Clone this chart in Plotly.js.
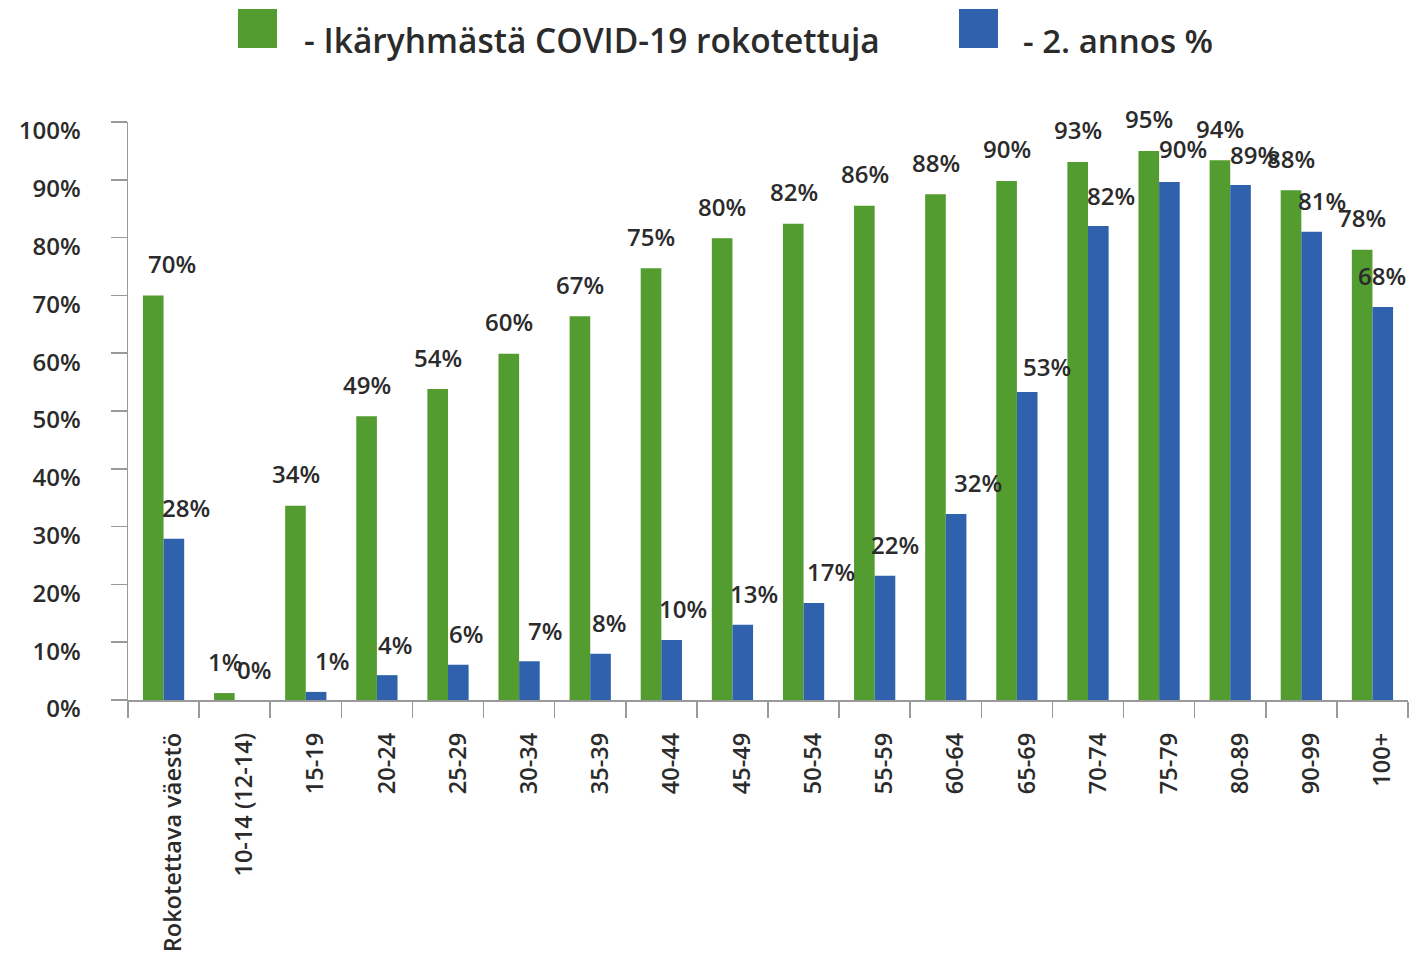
<!DOCTYPE html>
<html>
<head>
<meta charset="utf-8">
<script src="https://cdn.plot.ly/plotly-3.0.1.min.js"></script>
<style>html,body{margin:0;padding:0;background:#fff;}#chart{width:1416px;height:956px;}</style>
</head>
<body>
<div id="chart"></div>
<script>
const categories = ["Rokotettava väestö","10-14 (12-14)","15-19","20-24","25-29","30-34","35-39","40-44","45-49","50-54","55-59","60-64","65-69","70-74","75-79","80-89","90-99","100+"];
const firstDose = [70, 1.2, 33.6, 49.1, 53.8, 59.9, 66.4, 74.7, 79.9, 82.4, 85.5, 87.5, 89.8, 93.1, 95.0, 93.4, 88.2, 77.9];
const secondDose = [27.9, 0, 1.4, 4.3, 6.1, 6.7, 8.0, 10.4, 13.0, 16.8, 21.5, 32.2, 53.3, 82.0, 89.6, 89.1, 81.0, 68.0];
const firstLabels = ["70%","1%","34%","49%","54%","60%","67%","75%","80%","82%","86%","88%","90%","93%","95%","94%","88%","78%"];
const secondLabels = ["28%","0%","1%","4%","6%","7%","8%","10%","13%","17%","22%","32%","53%","82%","90%","89%","81%","68%"];
const yTicks = [0,10,20,30,40,50,60,70,80,90,100];
const legendNames = ["- Ikäryhmästä COVID-19 rokotettuja", "- 2. annos %"];

// label placement nudges (style only, px relative to each bar's centre)
const greenLabelDx = [18,0,0,0,0,0,0,0,0,0,0,0,0,0,0,0,0,0];
const blueLabelDx  = [12,9,16,8,8,16,9,12,12,17,10,22,20,13,14,14,11,0];
const blueLabelDy  = [0,0,0,0,0,0,0,0,0,0,0,0,-6,0,3,0,0,0];

const GREEN = "#529c30", BLUE = "#2f61ad", TXT = "#2b2b2b", AX = "#9a9a9a";
const FONT = "Open Sans";

const traces = [
  {type:"bar", x:categories, y:firstDose, name:legendNames[0], marker:{color:GREEN}, hoverinfo:"skip"},
  {type:"bar", x:categories, y:secondDose, name:legendNames[1], marker:{color:BLUE}, hoverinfo:"skip"}
];

const annotations = [];
categories.forEach((c,i)=>{
  annotations.push({x:c, y:firstDose[i], xref:"x", yref:"y", text:firstLabels[i], showarrow:false,
    xanchor:"center", yanchor:"middle", xshift: -10 + greenLabelDx[i], yshift:32,
    font:{family:FONT, size:24, color:TXT, weight:600}});
  annotations.push({x:c, y:secondDose[i], xref:"x", yref:"y", text:secondLabels[i], showarrow:false,
    xanchor:"center", yanchor:"middle", xshift:10 + blueLabelDx[i], yshift:31 + blueLabelDy[i],
    font:{family:FONT, size:24, color:TXT, weight:600}});
});
// legend texts
annotations.push({xref:"paper", yref:"paper", x:(302-128)/1280, y:(700-40)/578, text:legendNames[0], showarrow:false,
  xanchor:"left", yanchor:"middle", font:{family:FONT, size:33.5, color:TXT, weight:600}});
annotations.push({xref:"paper", yref:"paper", x:(1021-128)/1280, y:(700-40)/578, text:legendNames[1], showarrow:false,
  xanchor:"left", yanchor:"middle", font:{family:FONT, size:33, color:TXT, weight:600}});

const shapes = [
  {type:"rect", xref:"paper", yref:"paper", x0:(238-128)/1280, x1:(277-128)/1280, y0:(700-48)/578, y1:(700-9)/578, fillcolor:GREEN, line:{width:0}},
  {type:"rect", xref:"paper", yref:"paper", x0:(959-128)/1280, x1:(998-128)/1280, y0:(700-48)/578, y1:(700-9)/578, fillcolor:BLUE, line:{width:0}}
];

const layout = {
  width:1416, height:956,
  margin:{l:128, r:8, t:122, b:256, pad:0},
  paper_bgcolor:"#fff", plot_bgcolor:"#fff",
  showlegend:false,
  barmode:"group", bargap:0.42, bargroupgap:0,
  font:{family:FONT, color:TXT},
  xaxis:{type:"category", range:[-0.5, categories.length-0.5], showline:true, linecolor:AX, linewidth:1.5, ticks:"outside", ticklen:16, tickcolor:AX, tickwidth:1.5,
    tickson:"boundaries", tickangle:-90, ticklabelshift:10, ticklabelstandoff:22, showgrid:false, zeroline:false,
    tickfont:{family:FONT, size:23.5, color:TXT, weight:600}, fixedrange:true},
  yaxis:{range:[0,100], tickvals:yTicks, ticktext:yTicks.map(v=>v+"%"), showline:true, linecolor:AX, linewidth:1.5,
    ticks:"outside", ticklen:16, tickcolor:AX, tickwidth:1.5, showgrid:false, zeroline:false, ticklabelstandoff:25, ticklabelshift:9,
    tickfont:{family:FONT, size:24, color:TXT, weight:600}, fixedrange:true},
  annotations, shapes
};

Plotly.newPlot("chart", traces, layout, {displayModeBar:false, staticPlot:true});
</script>
</body>
</html>
